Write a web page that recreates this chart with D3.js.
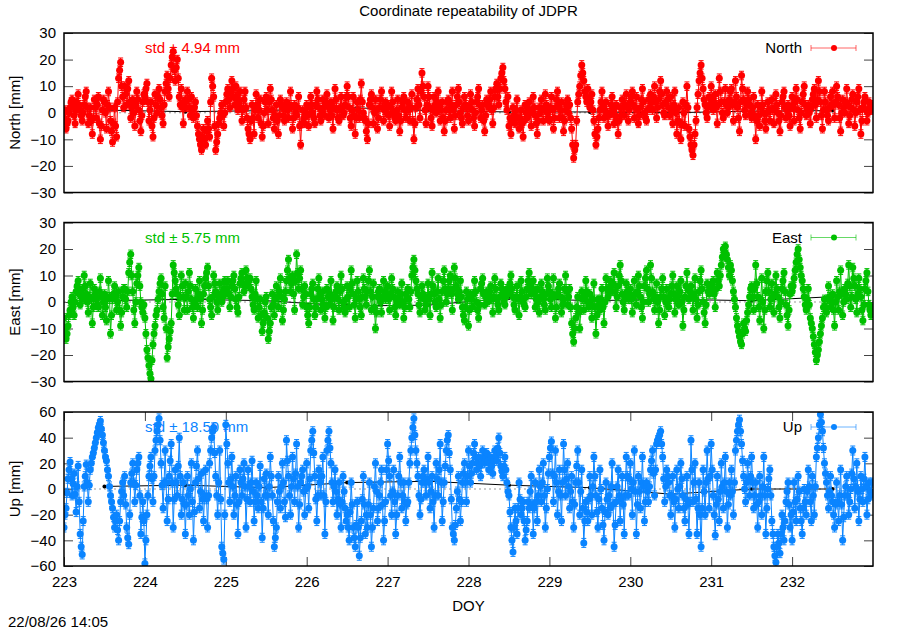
<!DOCTYPE html>
<html>
<head>
<meta charset="utf-8">
<script src="https://d3js.org/d3.v7.min.js"></script>
<style>
  body { margin: 0; background: #ffffff; }
  text { font-family: "Liberation Sans", Arial, sans-serif; font-size: 15px; fill: #000; }
</style>
</head>
<body>
<div id="chart"></div>
<script>
// epoch grid of the solutions (day of year, 18 min sampling)
var startDoy = 223;
var epochStep = 0.0125;

// North residuals [mm], 80 epochs per day
var northValues = [
  -2,1,-6,-4,-3,0,2,4,5,2,-1,-4,4,1,7,3,1,-1,-3,0, 3,6,8,2,-4,-1,2,-3,-8,-2,5,2,-2,3,6,-4,-10,-5,1,5,
  4,0,-6,3,8,2,-3,-7,-11,-4,2,-5,-9,4,13,16,19,10,6,2, 10,7,3,9,12,4,-2,2,5,0,-5,3,8,5,1,-3,-7,-1,4,7,
  6,9,11,4,-3,1,4,-5,-9,-2,7,3,0,6,9,5,2,-1,-4,3, 8,11,14,9,6,13,18,21,23,16,12,17,20,13,6,3,9,2,-4,4,
  5,2,8,5,2,-1,6,1,-2,2,4,-1,-5,-8,-10,-12,-14,-9,-6,-10, -12,-7,-3,-6,-9,4,13,10,6,-5,-14,-11,-8,-4,-2,0,3,-1,-5,0,
  4,7,9,5,2,8,12,9,6,3,10,6,1,4,8,2,-3,1,5,8, 2,-2,-6,-8,-10,-3,3,-2,-8,1,7,3,-2,1,5,-4,-9,-5,0,4,
  6,1,-4,4,9,5,1,-2,-6,-1,3,-3,-8,-1,5,3,2,-1,-3,2, 4,1,-2,3,8,2,-6,-2,3,0,-1,2,6,-5,-12,-4,1,-2,-4,0,
  3,-1,-5,2,6,3,0,-2,-4,3,8,5,2,-1,-3,1,5,2,-1,4, 7,3,-2,1,4,-1,-6,2,9,5,1,-2,-3,2,6,1,-1,0,3,6,
  10,6,2,-2,-5,1,6,-1,-8,-2,4,1,-2,5,11,4,0,-2,-3,-7, -10,-4,3,5,7,2,-4,0,5,1,-6,-2,2,5,8,2,-3,1,4,0,
  3,-1,-5,2,8,4,0,-2,-3,1,5,-1,-7,-3,2,4,6,1,-2,1, 4,1,-3,2,7,-3,-10,-4,2,5,9,3,-2,8,15,10,6,1,-4,3,
  10,6,2,-2,-5,1,6,3,0,4,8,2,-3,1,4,-2,-7,-3,1,4, 5,1,-2,3,8,1,-6,-1,3,6,9,4,0,-2,-4,2,6,3,2,-1,
  -3,2,7,4,1,-2,-5,0,4,6,9,3,-2,1,3,-3,-7,-1,5,3, 2,5,8,1,-4,2,6,9,11,6,3,9,13,15,17,12,9,4,1,6,
  -5,-2,-8,-3,2,-1,-4,1,5,-2,-6,-2,1,-4,-9,-3,3,0,-2,1, 4,0,-5,1,6,2,-1,-4,-8,-3,2,0,5,1,-3,2,7,3,0,-2,
  -3,2,6,1,-6,-2,2,5,8,3,-2,1,4,-2,-7,-3,1,3,5,0, 3,-2,-6,-12,-17,-14,-12,-3,4,7,10,14,18,15,12,8,6,4,9,5,
  2,4,7,1,-3,-8,-12,-9,-6,-2,1,4,8,3,-2,1,4,0,-5,-1, 0,3,6,1,-4,-1,3,-3,-8,-3,2,-1,5,2,-1,3,7,2,-3,1,
  4,6,8,3,-2,2,6,1,-4,-1,2,5,9,4,0,-2,-3,1,5,2, 7,4,1,6,10,4,-2,2,5,8,12,7,3,0,-1,4,8,5,2,-1,
  6,1,-4,3,8,0,-8,-3,2,-4,-10,-4,4,0,-5,3,10,2,-6,-9, -12,-14,-16,-12,-8,-3,2,7,12,15,18,13,9,5,3,0,-2,2,6,3,
  10,5,1,4,7,2,-4,3,13,8,4,0,-2,4,9,3,0,2,5,8, 9,3,-3,4,12,6,2,-2,-7,4,14,9,5,1,-1,3,8,5,3,0,
  -2,2,6,-1,-10,-3,3,-1,-5,2,8,3,0,-3,-6,0,4,1,-3,1, 5,1,-4,2,7,3,0,-3,-7,-1,4,6,8,2,-2,1,3,-1,-5,2,
  6,2,-3,4,9,5,1,-2,-6,0,4,7,10,3,-1,1,3,0,-4,2, 5,7,9,3,-2,5,12,8,4,-1,-6,1,8,4,1,-1,-3,2,6,3,
  8,3,-2,4,10,6,3,-2,-7,0,5,2,0,4,9,3,-4,-1,2,5, 7,1,-5,0,4,6,9,1,-8,-3,2,4,6,1,-3,0,4,2,1,3
];

// East residuals [mm]
var eastValues = [
  -6,-10,-14,-12,-9,-5,-3,0,2,-2,-5,0,4,6,8,3,-1,2,5,1, 10,6,3,0,-4,2,7,1,-8,-2,5,3,1,-1,-2,4,9,2,-5,0,
  3,-2,-7,1,8,2,-12,-5,1,3,6,2,-3,0,4,-3,-9,-4,2,5, 5,1,-2,4,11,15,18,10,4,-3,-8,0,7,10,13,6,0,-2,-4,-1,
  -6,-12,-18,-21,-24,-27,-29,-22,-16,-12,-9,-5,-3,1,4,7,9,3,-2,-6, 6,-10,-21,-17,-14,-11,-8,3,14,11,8,5,3,-1,-5,2,10,6,2,-3,
  7,2,-3,4,11,6,1,-2,-6,0,5,1,-2,3,8,1,-8,-3,3,6, 9,11,13,6,1,-2,-5,2,10,7,4,0,-3,2,7,3,0,2,5,8,
  3,5,8,3,-2,2,6,8,10,5,1,-2,-4,2,7,9,11,7,4,6, 12,9,6,8,9,5,2,-1,-3,3,8,1,-6,-2,1,-5,-11,-8,-4,0,
  2,-6,-14,-11,-8,-2,3,-1,-5,1,6,2,-2,4,9,2,-7,-3,1,4, 8,12,16,9,4,7,10,3,-3,8,18,11,5,9,12,5,-1,2,6,3,
  -2,-5,-8,-2,3,5,7,1,-5,-2,1,5,9,3,-3,1,4,-1,-6,-2, 5,2,-1,3,8,1,-7,-2,2,4,6,1,-3,4,10,5,0,-2,-4,1,
  6,2,-2,5,12,7,3,-1,-6,1,8,4,1,-2,-5,2,9,5,2,-1, 4,8,12,4,-3,2,7,-2,-10,-4,2,4,5,0,-4,2,8,4,1,3,
  6,1,-3,3,9,5,2,-2,-5,0,4,1,-1,3,7,0,-6,-2,3,1, 5,1,-2,4,10,13,16,12,8,5,3,-1,-4,2,6,3,1,-3,-1,2,
  7,1,-5,3,11,6,3,0,-2,4,9,1,-6,-1,4,8,12,5,0,3, 5,8,10,3,-3,5,13,9,6,3,1,4,8,2,-2,-5,-7,-2,4,1,
  -9,-3,3,1,-2,3,8,4,0,-3,-6,-1,5,7,9,3,-1,2,4,0, 2,4,6,1,-4,2,9,5,1,-1,-3,2,7,5,3,0,-1,2,5,3,
  4,7,10,5,2,-1,-3,2,6,1,-5,2,8,4,0,-1,-2,2,5,8, 11,7,3,5,8,3,-2,1,5,0,-4,2,7,4,1,-1,-3,3,9,6,
  4,1,-2,3,9,2,-6,-2,3,5,7,2,-4,-1,1,5,10,4,-1,2, 5,-2,-8,-12,-15,-10,-6,-2,2,-4,-10,-3,4,1,-3,2,8,4,0,-2,
  3,-1,-6,1,7,-2,-12,-5,1,-1,-3,1,5,-2,-8,0,9,5,2,4, 8,6,4,7,11,4,-2,2,6,10,14,8,3,0,-3,2,7,4,1,3,
  5,1,-4,2,8,3,-1,4,10,6,2,-2,-6,0,6,9,12,5,0,3, 14,9,4,1,-3,2,7,0,-8,-3,2,5,9,2,-5,0,5,1,-2,1,
  3,6,10,3,-4,1,6,2,-1,4,8,0,-9,-3,2,6,11,5,1,4, 6,2,-3,3,9,1,-6,-1,4,8,12,5,0,-4,-8,-1,7,4,3,5,
  5,7,8,3,-2,5,11,8,6,10,14,17,20,19,21,18,16,13,10,14, 12,8,4,1,-2,-6,-9,-11,-13,-15,-16,-12,-8,-10,-11,-7,-4,-1,2,5,
  6,2,-3,5,14,7,2,-2,-7,1,9,0,-10,-3,4,8,11,4,-2,1, 7,2,-4,3,10,5,2,-2,-6,0,5,8,11,4,-1,-5,-9,-3,3,6,
  4,6,9,12,15,18,20,16,13,10,8,5,2,-1,-3,1,5,-1,-6,-8, -10,-13,-16,-19,-22,-20,-18,-15,-12,-9,-6,-2,1,-2,-4,1,6,2,-2,0,
  3,-3,-9,0,8,2,-3,4,12,3,-5,0,5,3,1,7,14,6,-2,2, 13,9,6,1,-4,3,9,5,2,-3,-7,-1,5,8,11,4,-1,-3,-5,-2
];

// Up residuals [mm]
var upValues = [
  -30,-20,-15,-3,8,15,21,8,-5,4,12,-4,-18,2,18,-10,-35,-45,-51,-25, 2,10,19,5,-10,3,15,20,25,28,32,36,40,44,48,50,53,47,42,36,
  30,25,22,15,10,2,-5,-10,-15,-22,-30,-25,-20,-32,-40,-25,-10,-2,5,-5, 10,-12,-30,-38,-43,-20,5,12,20,5,-10,3,15,20,25,-5,-35,-22,-10,-25,
  -58,-40,-20,-5,10,18,25,8,-10,10,30,38,45,50,55,38,20,3,-15,5, 30,5,-25,-8,10,22,35,5,-30,-8,15,5,-5,18,40,10,-20,-8,5,-12,
  -35,-12,10,-5,-20,0,20,-10,-40,-18,5,18,30,8,-15,-2,12,-8,-25,-5, 15,-8,-30,-5,20,30,40,45,48,28,10,-5,-20,5,30,-8,-45,-50,-55,-20,
  50,35,20,5,-10,8,25,2,-20,-5,10,-12,-35,-10,15,5,-5,8,20,2, -30,-8,15,2,-10,5,22,-2,-25,-10,5,-5,-15,2,18,-10,-38,-15,8,-5,
  12,-5,-20,2,25,10,-5,-25,-45,-38,-30,-10,10,-2,-15,2,20,5,-10,-22, 38,22,10,-5,-20,2,25,8,-10,12,35,2,-30,-12,5,10,15,-2,-20,0,
  20,2,-15,8,30,38,45,28,10,-8,-25,-5,15,5,-5,10,25,-5,-35,-10, 30,38,45,32,20,5,-10,2,15,-2,-20,-8,5,-12,-30,-10,10,-2,-15,-25,
  -20,-30,-40,-18,5,-12,-30,-38,-45,-28,-10,-30,-52,-38,-25,-8,10,-12,-35,-20, -30,-12,5,-20,-45,-30,-15,2,20,-2,-25,-15,-5,5,15,-12,-40,-25,-10,15,
  35,22,10,-5,-20,-2,15,-10,-35,-20,-5,10,25,5,-15,-5,5,-10,-25,-12, -10,5,20,30,40,48,55,42,30,20,10,-5,-20,-8,5,10,15,5,-5,8,
  25,5,-15,-2,10,-10,-30,-5,20,8,-5,15,35,5,-25,-10,5,18,30,38, 42,28,15,-8,-30,-35,-40,-28,-15,-2,10,-8,-25,-10,5,12,20,5,-10,10,
  30,18,5,12,20,28,35,25,15,20,25,18,10,20,30,25,20,24,28,22, 15,20,25,18,12,22,30,26,22,32,40,28,18,14,10,18,25,15,5,-2,
  -5,-18,-30,-40,-49,-30,-15,-25,-35,-15,5,-8,-20,-15,-10,-25,-40,-32,-25,-10, -15,-2,10,-12,-35,-15,5,-10,-25,-5,15,2,-10,5,20,-5,-30,-15,0,12,
  25,32,37,12,-10,10,30,5,-20,-2,15,-5,-25,5,35,15,-5,8,20,2, -15,-2,10,-10,-30,-12,5,18,30,5,-20,-2,15,-15,-42,-25,-10,-18,-25,-8,
  10,-5,-20,2,25,10,-5,-18,-30,-8,15,0,-15,-28,-40,-18,5,-8,-20,-5, -15,2,20,-12,-45,-28,-10,2,15,-5,-25,-8,10,-12,-35,-5,25,10,-5,8,
  20,0,-20,5,30,-2,-35,-12,10,-2,-15,5,25,2,-25,-10,5,-2,-10,2, 15,22,30,12,-5,15,35,38,40,42,45,35,25,8,-10,2,15,10,5,-5,
  -20,-5,10,-10,-30,-8,15,0,-15,2,20,8,-5,-15,-25,-8,10,-12,-35,-10, 38,15,-10,5,20,-8,-35,-15,5,-20,-45,-15,15,-2,-20,5,30,8,-15,10,
  35,15,-5,-20,-36,-12,10,-8,-25,-2,20,2,-15,5,25,-2,-30,-12,5,-5, 15,-2,-20,5,30,38,45,50,54,45,35,22,10,0,-10,5,20,8,-5,10,
  25,5,-15,-5,5,-12,-30,-10,10,-5,-20,2,25,-5,-35,-15,0,8,15,-5, -25,-35,-45,-52,-57,-45,-35,-42,-50,-35,-20,-30,-40,-25,-10,-2,5,-12,-30,-20,
  -40,-18,5,-10,-25,-8,10,-2,-15,-25,-35,-15,0,-10,-20,-2,15,2,-10,-25, 10,-5,-20,2,25,32,40,50,58,52,45,32,20,12,5,-5,-15,-2,10,-5,
  -10,-20,-30,-12,5,-10,-25,-5,15,-12,-40,-22,-5,2,10,-5,-20,-10,0,12, 30,8,-15,2,20,-2,-25,-8,10,0,-10,8,25,2,-20,-8,5,-2,-5,5
];

// daily solutions (black line)
var dailyDoy = [223.5, 224.5, 225.5, 226.5, 227.5, 228.5, 229.5, 230.5, 231.5, 232.5];
var northDaily = [1.0, 0.4, 0.8, 2.0, 0.8, 0.3, 0.3, 0.0, 0.6, 0.8];
var eastDaily = [0.5, 1.0, 0.5, -1.5, -1.2, 1.5, 0.5, 1.0, 0.5, 2.0];
var upDaily = [2, 3, 1, 5, 6, 3, 1, -4, 0, 0];

// tick labels
var neTicks = [-30, -20, -10, 0, 10, 20, 30];
var upTicks = [-60, -40, -20, 0, 20, 40, 60];
var doyTicks = [223, 224, 225, 226, 227, 228, 229, 230, 231, 232];

var svgWidth = 900;
var svgHeight = 630;

var svg = d3.select("#chart")
  .append("svg")
  .attr("width", svgWidth)
  .attr("height", svgHeight);

var plotLeft = 64;
var plotRight = 873;

var xScale = d3.scaleLinear()
  .domain([223, 233])
  .range([plotLeft, plotRight]);

var panels = [
  { key: "north", name: "North", ylabel: "North [mm]", values: northValues, daily: northDaily,
    color: "#ff0000", top: 33, bottom: 192.5, domain: [-30, 30], ticks: neTicks,
    err: 1.6, std: "std \u00b1 4.94 mm", xaxis: false },
  { key: "east", name: "East", ylabel: "East [mm]", values: eastValues, daily: eastDaily,
    color: "#00c000", top: 222.5, bottom: 381.5, domain: [-30, 30], ticks: neTicks,
    err: 1.6, std: "std \u00b1 5.75 mm", xaxis: false },
  { key: "up", name: "Up", ylabel: "Up [mm]", values: upValues, daily: upDaily,
    color: "#0a84ff", top: 412, bottom: 566, domain: [-60, 60], ticks: upTicks,
    err: 3.5, std: "std \u00b1 18.50 mm", xaxis: true }
];

// title
svg.append("text")
  .attr("x", (plotLeft + plotRight) / 2)
  .attr("y", 16)
  .attr("text-anchor", "middle")
  .text("Coordinate repeatability of JDPR");

panels.forEach(function(p) {
  var yScale = d3.scaleLinear()
    .domain(p.domain)
    .range([p.bottom, p.top]);

  var points = p.values.map(function(v, i) {
    return { doy: startDoy + i * epochStep, v: v };
  });
  var dailyPoints = p.daily.map(function(v, i) {
    return { doy: dailyDoy[i], v: v };
  });

  svg.append("clipPath")
    .attr("id", "clip-" + p.key)
    .append("rect")
    .attr("x", plotLeft)
    .attr("y", p.top)
    .attr("width", plotRight - plotLeft)
    .attr("height", p.bottom - p.top);

  // y axis left with labels, ticks pointing in
  var leftAxis = svg.append("g")
    .attr("transform", `translate(${plotLeft}, 0)`)
    .call(d3.axisLeft(yScale).tickValues(p.ticks).tickSize(-9).tickPadding(8));
  leftAxis.select(".domain").remove();

  var rightAxis = svg.append("g")
    .attr("transform", `translate(${plotRight}, 0)`)
    .call(d3.axisRight(yScale).tickValues(p.ticks).tickSize(-9).tickFormat(""));
  rightAxis.select(".domain").remove();

  if (p.xaxis) {
    var bottomAxis = svg.append("g")
      .attr("transform", `translate(0, ${p.bottom})`)
      .call(d3.axisBottom(xScale).tickValues(doyTicks).tickSize(-9).tickPadding(10));
    bottomAxis.select(".domain").remove();

    var topAxis = svg.append("g")
      .attr("transform", `translate(0, ${p.top})`)
      .call(d3.axisTop(xScale).tickValues(doyTicks).tickSize(-9).tickFormat(""));
    topAxis.select(".domain").remove();
  }

  svg.selectAll(".tick line").attr("stroke", "#444");

  // y axis title
  svg.append("text")
    .attr("transform", `translate(20, ${(p.top + p.bottom) / 2}) rotate(-90)`)
    .attr("text-anchor", "middle")
    .text(p.ylabel);

  var plot = svg.append("g")
    .attr("clip-path", `url(#clip-${p.key})`);

  // zero line
  plot.append("line")
    .attr("x1", plotLeft)
    .attr("x2", plotRight)
    .attr("y1", yScale(0))
    .attr("y2", yScale(0))
    .attr("stroke", "#999")
    .attr("stroke-dasharray", "2,3");

  // std text sits below the data
  plot.append("text")
    .attr("x", 145)
    .attr("y", p.top + 20)
    .style("fill", p.color)
    .text(p.std);

  // daily solutions
  var dailyLine = d3.line()
    .x(d => xScale(d.doy))
    .y(d => yScale(d.v));

  plot.append("path")
    .datum(dailyPoints)
    .attr("d", dailyLine)
    .attr("fill", "none")
    .attr("stroke", "#000")
    .attr("stroke-width", 1);

  plot.selectAll(".daily-dot")
    .data(dailyPoints)
    .enter()
    .append("circle")
    .attr("cx", d => xScale(d.doy))
    .attr("cy", d => yScale(d.v))
    .attr("r", 2)
    .attr("fill", "#000");

  // series line
  var seriesLine = d3.line()
    .x(d => xScale(d.doy))
    .y(d => yScale(d.v));

  plot.append("path")
    .datum(points)
    .attr("d", seriesLine)
    .attr("fill", "none")
    .attr("stroke", p.color)
    .attr("stroke-width", 1);

  // error bars
  var bars = plot.append("g")
    .attr("stroke", p.color)
    .attr("stroke-width", 1);

  bars.selectAll(".bar")
    .data(points)
    .enter()
    .append("path")
    .attr("d", function(d) {
      var x = xScale(d.doy);
      var y1 = yScale(d.v - p.err);
      var y2 = yScale(d.v + p.err);
      return `M${x},${y1}V${y2}M${x - 2.5},${y1}H${x + 2.5}M${x - 2.5},${y2}H${x + 2.5}`;
    });

  // markers
  plot.selectAll(".pt")
    .data(points)
    .enter()
    .append("circle")
    .attr("cx", d => xScale(d.doy))
    .attr("cy", d => yScale(d.v))
    .attr("r", 3.5)
    .attr("fill", p.color);

  // key
  var keyY = p.top + 15;
  svg.append("text")
    .attr("x", 802)
    .attr("y", keyY + 5)
    .attr("text-anchor", "end")
    .text(p.name);

  var key = svg.append("g")
    .attr("stroke", p.color)
    .attr("stroke-opacity", 0.6)
    .attr("stroke-width", 1);
  key.append("line").attr("x1", 811).attr("x2", 856).attr("y1", keyY).attr("y2", keyY);
  key.append("line").attr("x1", 811).attr("x2", 811).attr("y1", keyY - 3).attr("y2", keyY + 3);
  key.append("line").attr("x1", 856).attr("x2", 856).attr("y1", keyY - 3).attr("y2", keyY + 3);
  svg.append("circle")
    .attr("cx", 834)
    .attr("cy", keyY)
    .attr("r", 3)
    .attr("fill", p.color);

  // frame
  svg.append("rect")
    .attr("x", plotLeft)
    .attr("y", p.top)
    .attr("width", plotRight - plotLeft)
    .attr("height", p.bottom - p.top)
    .attr("fill", "none")
    .attr("stroke", "#000")
    .attr("stroke-width", 1.5);
});

// x axis title and time stamp
svg.append("text")
  .attr("x", (plotLeft + plotRight) / 2)
  .attr("y", 611)
  .attr("text-anchor", "middle")
  .text("DOY");

svg.append("text")
  .attr("x", 8)
  .attr("y", 627)
  .text("22/08/26 14:05");
</script>
</body>
</html>
